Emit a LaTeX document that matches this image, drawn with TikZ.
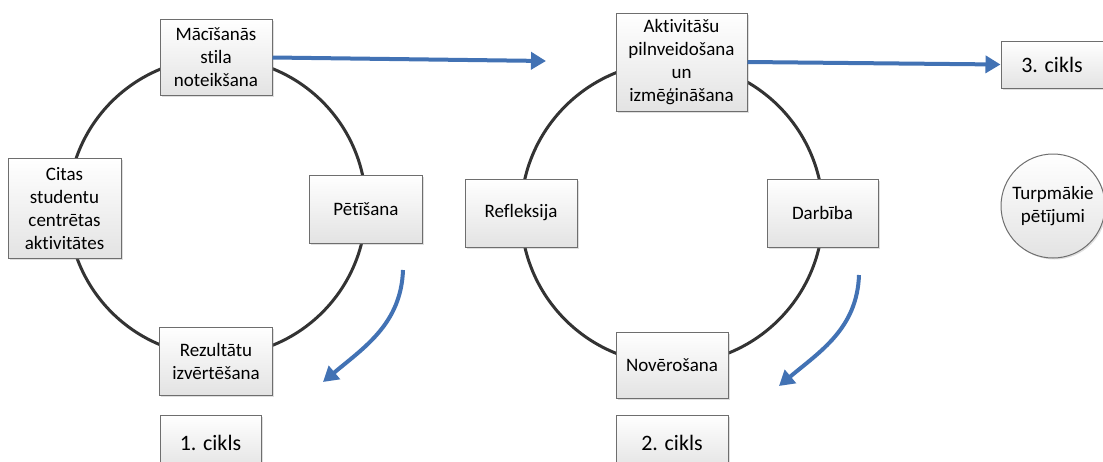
\documentclass[tikz,border=0pt]{standalone}
\usepackage{fontspec}
\setmainfont{Carlito}[Ligatures=NoCommon]
\usepackage{xcolor}
\usepackage{tikz}
\usetikzlibrary{arrows.meta}
\usetikzlibrary{shadows}
\definecolor{pfeilblau}{RGB}{66,114,180}
\definecolor{randgrau}{RGB}{110,110,110}

\begin{document}
\begin{tikzpicture}[x=1pt, y=1pt, >={Triangle[length=15pt,width=17pt]}, box style/.style={rectangle, draw=randgrau, line width=1pt, top color=white, bottom color=black!11, drop shadow={shadow xshift=1.5pt, shadow yshift=-1.5pt, opacity=0.25}, align=center, inner sep=2pt, font=\fontsize{19}{23}\selectfont}, cikls style/.style={box style, font=\fontsize{22}{26}\selectfont}, ring style/.style={draw=black!80, line width=3pt}, pfeil style/.style={draw=pfeilblau, line width=4pt, ->}]
	\useasboundingbox (0,0) rectangle (1103,-461);
	\draw[ring style] (217,-207) circle[radius=149];
	\draw[ring style] (672,-213) circle[radius=151];
	% 1. cikls
	\node[box style, minimum width=112, minimum height=76] (M) at (216,-57.5) {Mācīšanās\\stila\\noteikšana};
	\node[box style, minimum width=113, minimum height=100] (C) at (64.5,-208.5) {Citas\\studentu\\centrētas\\aktivitātes};
	\node[box style, minimum width=113, minimum height=68] (P) at (366,-209) {Pētīšana};
	\node[box style, minimum width=113, minimum height=68] (R) at (216,-361) {Rezultātu\\izvērtēšana};
	\node[cikls style, minimum width=101, minimum height=56] (Z1) at (210.5,-443) {1. cikls};
	% 2. cikls
	\node[box style, minimum width=131, minimum height=98] (A) at (681.5,-62) {Aktivitāšu\\pilnveidošana\\un\\izmēģināšana};
	\node[box style, minimum width=112, minimum height=68] (F) at (521,-213) {Refleksija};
	\node[box style, minimum width=111, minimum height=68] (D) at (822.5,-213) {Darbība};
	\node[box style, minimum width=112, minimum height=66] (N) at (672,-365) {Novērošana};
	\node[cikls style, minimum width=112, minimum height=56] (Z2) at (672,-443) {2. cikls};
	% 3. cikls
	\node[cikls style, minimum width=102, minimum height=47] (Z3) at (1052,-64.5) {3. cikls};
	\node[box style, circle, minimum size=104, inner sep=0pt] (T) at (1053,-206) {Turpmākie\\pētījumi};
	% pfeile
	\coordinate (E1) at (546,-61);
	\draw[pfeil style] (M.east) -- (E1);
	\draw[pfeil style] (A.east) -- (Z3.west);
	\coordinate (B1) at (403,-270);
	\coordinate (B2) at (323,-382);
	\draw[pfeil style] (B1) to[out=-92, in=40] (B2);
	\coordinate (B3) at (859,-275);
	\coordinate (B4) at (779,-386);
	\draw[pfeil style] (B3) to[out=-92, in=40] (B4);
\end{tikzpicture}
\end{document}
